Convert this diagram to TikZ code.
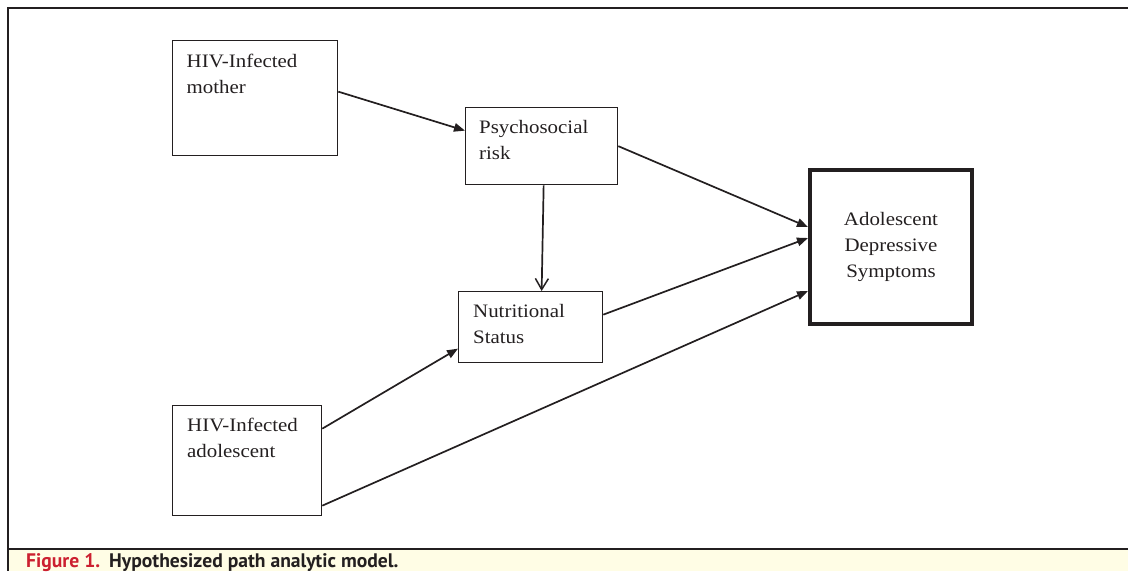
\documentclass[tikz,border=0pt]{standalone}
\usepackage{fontspec}
\setmainfont{Liberation Serif}[FakeStretch=1.1]
\newfontfamily\capfont{PT Sans}
\usepackage{xcolor}
\usetikzlibrary{arrows.meta}
\definecolor{ink}{HTML}{231F20}
\definecolor{figred}{HTML}{CC2030}
\definecolor{capfill}{HTML}{FFFDE5}

\begin{document}
\begin{tikzpicture}[x=1pt,y=-1pt,
  box/.style={draw=ink,line width=1.3pt,anchor=north west,inner sep=0pt},
  boxtext/.style={anchor=north west,align=left,inner sep=0pt,text=ink,
    font=\fontsize{19}{26}\selectfont},
  link/.style={draw=ink,line width=1.7pt,-{Triangle[length=11pt,width=8.5pt]}},
  openlink/.style={draw=ink,line width=1.7pt,-{Straight Barb[length=11pt,width=13pt,line width=1.5pt]}}]
  \useasboundingbox (0,0) rectangle (1128,571);

  % frame and caption
  \fill[capfill] (8,549) rectangle (1128,571);
  \draw[ink,line width=1.3pt] (1128,8) -- (8,8) -- (8,571);
  \draw[ink,line width=1.3pt] (8,549) -- (1128,549);
  \node (caption)[anchor=base west,inner sep=0pt,font=\capfont\bfseries\fontsize{19.6}{22}\selectfont,text=ink]
    at (26,567) {\textcolor{figred}{Figure 1.}\hspace{9pt}Hypothesized path analytic model.};

  % boxes
  \node (mother)[box,minimum width=165pt,minimum height=115pt,
    label={[boxtext,xshift=14.5pt,yshift=-14pt]north west:HIV-Infected\\mother}] at (172,40) {};
  \node (psych)[box,minimum width=152pt,minimum height=77pt,
    label={[boxtext,xshift=14pt,yshift=-13pt]north west:Psychosocial\\risk}] at (465,107) {};
  \node (nutr)[box,minimum width=144pt,minimum height=71pt,
    label={[boxtext,xshift=15pt,yshift=-13pt]north west:Nutritional\\Status}] at (458,291) {};
  \node (adol)[box,minimum width=149pt,minimum height=110pt,
    label={[boxtext,xshift=15pt,yshift=-13pt]north west:HIV-Infected\\adolescent}] at (172,405) {};
  \node (outcome)[draw=ink,line width=4pt,minimum width=162pt,minimum height=154pt,
    align=center,text=ink,font=\fontsize{19}{26}\selectfont] at (891,247)
    {Adolescent\\Depressive\\Symptoms};

  % paths
  \draw[link] ([yshift=6.5pt]mother.east) -- ([yshift=15.5pt]psych.west);
  \draw[link] (psych.east) -- ([yshift=20pt]outcome.west);
  \draw[openlink] ([xshift=2pt]psych.south) -- ([xshift=11pt]nutr.north);
  \draw[link] ([yshift=12.5pt]nutr.east) -- ([yshift=9pt]outcome.west);
  \draw[link] ([yshift=32pt]adol.east) -- ([yshift=-21.5pt]nutr.west);
  \draw[link] ([yshift=-45pt]adol.east) -- ([yshift=-44pt]outcome.west);
\end{tikzpicture}
\end{document}
